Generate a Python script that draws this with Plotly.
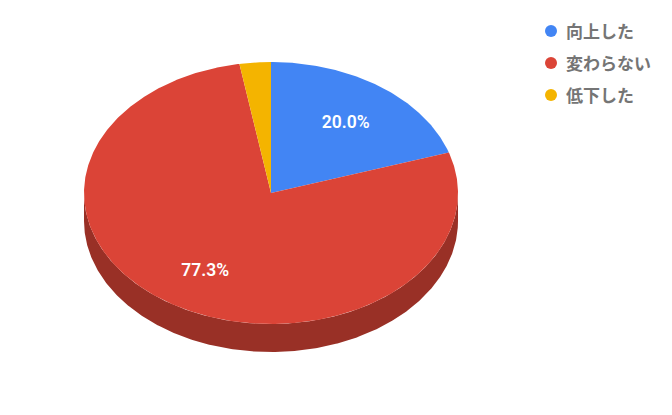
import numpy as np
import plotly.graph_objects as go

# Data
labels = ["向上した", "変わらない", "低下した"]
shares = [20.0, 77.3, 2.7]
colors = ["#4285F4", "#DB4437", "#F4B400"]
wall_colors = ["#285299", "#993026", "#996F00"]
min_label_share = 5

# Pie geometry in page pixels, flattened so it looks tilted
cx, cy = 271, 193
rx, ry = 187, 131
depth = 28
label_factor = 0.68
text_nudge = 2.5  # plotly centres text a little high

# Legend layout in page pixels
legend_dot_x = 551
legend_text_x = 566
legend_top = 31
legend_step = 32


def ellipse(start, end, offset=0.0):
    # angles in degrees, clockwise from the top
    t = np.radians(np.linspace(start, end, max(int(abs(end - start)) * 2, 2)))
    return cx + rx * np.sin(t), cy + offset - ry * np.cos(t)


fig = go.Figure()

# Side wall first, only the front half of the rim can be seen
start = 0.0
for share, wall in zip(shares, wall_colors):
    end = start + share * 3.6
    a, b = max(start, 90), min(end, 270)
    if a < b:
        x1, y1 = ellipse(a, b)
        x2, y2 = ellipse(b, a, depth)
        fig.add_trace(go.Scatter(
            x=np.r_[x1, x2], y=np.r_[y1, y2], mode="lines", fill="toself",
            fillcolor=wall, line=dict(color=wall, width=0),
            showlegend=False, hoverinfo="skip",
        ))
    start = end

# Top face slices
start = 0.0
for label, share, color in zip(labels, shares, colors):
    end = start + share * 3.6
    x, y = ellipse(start, end)
    fig.add_trace(go.Scatter(
        x=np.r_[cx, x, cx], y=np.r_[cy, y, cy], mode="lines", fill="toself",
        fillcolor=color, line=dict(color=color, width=0),
        name=label, showlegend=False, hoverinfo="name",
    ))
    start = end

# Percent labels
start = 0.0
for share in shares:
    mid = np.radians(start + share * 1.8)
    start += share * 3.6
    if share < min_label_share:
        continue
    fig.add_trace(go.Scatter(
        x=[cx + rx * label_factor * np.sin(mid)],
        y=[cy - ry * label_factor * np.cos(mid) + text_nudge],
        mode="text", text=[f"{share:.1f}%"],
        textfont=dict(family="Roboto", size=17.5, color="white", weight=600),
        showlegend=False, hoverinfo="skip",
    ))

# Legend, drawn by hand because plotly's keeps too wide a gap before the text
for i, (label, color) in enumerate(zip(labels, colors)):
    y = legend_top + i * legend_step
    fig.add_trace(go.Scatter(
        x=[legend_dot_x], y=[y], mode="markers", name=label,
        marker=dict(color=color, size=12), showlegend=False,
    ))
    fig.add_trace(go.Scatter(
        x=[legend_text_x], y=[y + text_nudge], mode="text", text=[label],
        textposition="middle right",
        textfont=dict(family="Noto Sans CJK JP", size=17, color="#757575", weight="bold"),
        showlegend=False, hoverinfo="skip",
    ))

fig.update_layout(
    width=672, height=415,
    margin=dict(l=0, r=0, t=0, b=0),
    paper_bgcolor="white",
    plot_bgcolor="white",
    showlegend=False,
)
fig.update_xaxes(range=[0, 672], visible=False, fixedrange=True)
fig.update_yaxes(range=[415, 0], visible=False, fixedrange=True)

fig.write_html(
    "out.html",
    config=dict(displayModeBar=False),
    post_script="document.body.style.margin = '0';",
)
